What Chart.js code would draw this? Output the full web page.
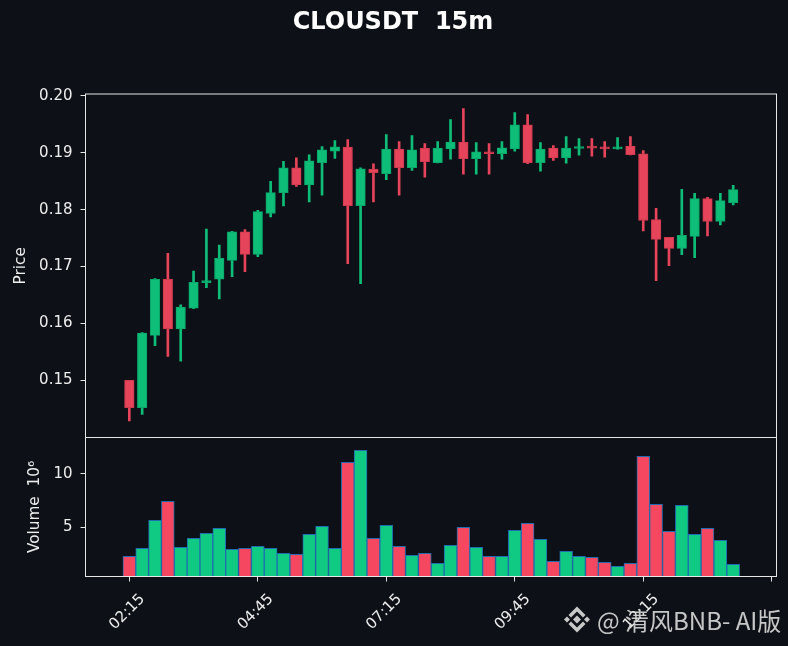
<!DOCTYPE html>
<html><head><meta charset="utf-8">
<script src="https://cdn.jsdelivr.net/npm/chart.js@4.4.1/dist/chart.umd.min.js"></script>
<style>html,body{margin:0;padding:0;background:#0d1017;}#wrap{width:788px;height:646px;position:relative;}canvas{display:block;}</style>
</head><body><div id="wrap"><canvas id="c" width="788" height="646"></canvas></div>
<script>
const titleText = 'CLOUSDT  15m';
const watermarkText = '@ 清风BNB- AI版';
const timeTicks = [0, 10, 20, 30, 40, 50];
const timeLabels = ['02:15', '04:45', '07:15', '09:45', '12:15', ''];
const opens  = [0.15005,0.14523,0.15792,0.16778,0.15904,0.16271,0.16719,0.16778,0.17110,0.17610,0.17215,0.17932,0.18299,0.18736,0.18432,0.18823,0.19027,0.19097,0.18071,0.18712,0.18631,0.19062,0.18736,0.19079,0.18823,0.19068,0.19184,0.18893,0.19016,0.18981,0.19068,0.19488,0.18823,0.19079,0.18910,0.19074,0.19103,0.19103,0.19068,0.19114,0.18981,0.17827,0.17512,0.17320,0.17530,0.18194,0.17792,0.18124];
const highs  = [0.15005,0.15840,0.16790,0.17232,0.16329,0.16923,0.17657,0.17378,0.17620,0.17652,0.17990,0.18497,0.18846,0.18910,0.18963,0.19108,0.19213,0.19231,0.18736,0.18806,0.19318,0.19196,0.19301,0.19161,0.19196,0.19580,0.19773,0.19178,0.19161,0.19196,0.19703,0.19668,0.19178,0.19126,0.19283,0.19248,0.19248,0.19196,0.19266,0.19283,0.19038,0.18024,0.17512,0.18357,0.18287,0.18217,0.18287,0.18427];
const lows   = [0.14289,0.14406,0.15612,0.15425,0.15338,0.16260,0.16632,0.16434,0.16824,0.16911,0.17173,0.17873,0.18065,0.18409,0.18135,0.18252,0.18899,0.17051,0.16701,0.18135,0.18526,0.18252,0.18689,0.18572,0.18820,0.18887,0.18624,0.18624,0.18624,0.18887,0.19027,0.18806,0.18677,0.18864,0.18817,0.18957,0.18939,0.18922,0.19060,0.18960,0.17628,0.16754,0.17016,0.17208,0.17156,0.17540,0.17733,0.18082];
const closes = [0.14523,0.15833,0.16778,0.15904,0.16288,0.16725,0.16737,0.17145,0.17610,0.17215,0.17966,0.18299,0.18736,0.18432,0.18858,0.19051,0.19103,0.18071,0.18718,0.18649,0.19062,0.18736,0.19051,0.18841,0.19079,0.19184,0.18893,0.19016,0.18981,0.19086,0.19488,0.18823,0.19062,0.18910,0.19079,0.19097,0.19079,0.19068,0.19097,0.18963,0.17809,0.17477,0.17320,0.17547,0.18194,0.17792,0.18159,0.18351];
const volumes = [2.28,3.03,5.65,7.43,3.12,3.96,4.43,4.90,2.93,3.03,3.21,3.03,2.56,2.46,4.34,5.09,3.03,11.09,12.21,3.96,5.18,3.21,2.37,2.56,1.62,3.31,5.00,3.12,2.28,2.28,4.71,5.37,3.87,1.81,2.75,2.28,2.18,1.72,1.34,1.62,11.65,7.15,4.62,7.06,4.34,4.90,3.78,1.53];
const priceTicks = [0.15, 0.16, 0.17, 0.18, 0.19, 0.20];
const volumeTicks = [5, 10];

const BG = '#0d1017';
const FG = '#eeeeee';
const up = closes.map((c, i) => c >= opens[i]);
const candleUp = '#0ebe78', candleDown = '#e5445a';
const volUp = '#10ca84', volDown = '#f5475f';

const idx = opens.map((_, i) => i);
const wickData = idx.map(i => ({x: i, y: [lows[i], highs[i]]}));
const bodyData = idx.map(i => ({x: i, y: [opens[i], closes[i]]}));
const volData = idx.map(i => ({x: i, y: volumes[i]}));

const deco = {
  id: 'deco',
  beforeDraw(chart) {
    const ctx = chart.ctx;
    ctx.save();
    ctx.fillStyle = BG;
    ctx.fillRect(0, 0, chart.width, chart.height);
    ctx.restore();
  },
  afterDraw(chart) {
    const {ctx, chartArea: ca, scales} = chart;
    ctx.save();
    ctx.strokeStyle = '#e6e6e6';
    ctx.lineWidth = 1;
    for (const id of ['yPrice', 'yVol']) {
      const s = scales[id];
      ctx.strokeRect(ca.left, s.top, ca.right - ca.left, s.bottom - s.top);
    }
    const xs = scales.x;
    ctx.fillStyle = FG;
    ctx.font = '15px "DejaVu Sans"';
    ctx.textAlign = 'center';
    ctx.textBaseline = 'middle';
    timeTicks.forEach((t, k) => {
      const lbl = timeLabels[k];
      if (!lbl) return;
      const px = xs.getPixelForValue(t);
      ctx.save();
      ctx.translate(px - 2, ca.bottom + 35.5);
      ctx.rotate(-Math.PI / 4);
      ctx.fillText(lbl, 0, 0);
      ctx.restore();
    });
    // title
    ctx.fillStyle = '#ffffff';
    ctx.font = 'bold 24px "DejaVu Sans"';
    ctx.textAlign = 'center';
    ctx.textBaseline = 'middle';
    ctx.fillText(titleText, 393, 23);
    // watermark logo
    const cx = 577, cy = 619.5;
    ctx.fillStyle = 'rgba(215,215,215,0.92)';
    const diamond = (x, y, r) => { ctx.beginPath(); ctx.moveTo(x, y - r); ctx.lineTo(x + r, y); ctx.lineTo(x, y + r); ctx.lineTo(x - r, y); ctx.closePath(); ctx.fill(); };
    diamond(cx, cy, 4);
    diamond(cx - 10, cy, 3);
    diamond(cx + 10, cy, 3);
    for (const sgn of [-1, 1]) {
      ctx.beginPath();
      ctx.moveTo(cx, cy + sgn * 13);
      ctx.lineTo(cx + 8.5, cy + sgn * 4.5);
      ctx.lineTo(cx + 6, cy + sgn * 2);
      ctx.lineTo(cx, cy + sgn * 8);
      ctx.lineTo(cx - 6, cy + sgn * 2);
      ctx.lineTo(cx - 8.5, cy + sgn * 4.5);
      ctx.closePath();
      ctx.fill();
    }
    ctx.font = '24px "Noto Sans CJK SC"';
    ctx.textAlign = 'left';
    ctx.textBaseline = 'alphabetic';
    ctx.fillText(watermarkText, 597, 629.5);
    ctx.restore();
  }
};

const tickFont = {family: 'DejaVu Sans', size: 15};
const titleFont = {family: 'DejaVu Sans', size: 15.3};

new Chart(document.getElementById('c'), {
  type: 'bar',
  data: {
    datasets: [
      {
        label: 'body', data: bodyData, yAxisID: 'yPrice', xAxisID: 'x', order: 0,
        backgroundColor: up.map(u => u ? candleUp : candleDown),
        borderColor: up.map(u => u ? '#0aa86a' : '#cf3a4f'),
        borderWidth: 1, borderSkipped: false, barThickness: 9.5, minBarLength: 2, grouped: false
      },
      {
        label: 'wick', data: wickData, yAxisID: 'yPrice', xAxisID: 'x', order: 1,
        backgroundColor: up.map(u => u ? candleUp : candleDown),
        borderWidth: 0, barThickness: 2, grouped: false
      },
      {
        label: 'volume', data: volData, yAxisID: 'yVol', xAxisID: 'x', order: 2,
        backgroundColor: up.map(u => u ? volUp : volDown),
        borderColor: '#1f6db0', borderWidth: 1, borderSkipped: false,
        barThickness: 12.85, grouped: false
      }
    ]
  },
  options: {
    responsive: false,
    animation: false,
    devicePixelRatio: 1,
    layout: {padding: {left: 0, right: 11.5, top: 94, bottom: 0}},
    plugins: {legend: {display: false}, tooltip: {enabled: false}, title: {display: false}},
    scales: {
      x: {
        type: 'linear', min: -3.41, max: 50.37, offset: false,
        grid: {display: true, offset: false, drawOnChartArea: false, drawTicks: true, tickLength: 5, tickColor: '#e6e6e6', tickWidth: 1},
        border: {display: false},
        ticks: {display: false},
        afterBuildTicks: s => { s.ticks = timeTicks.map(v => ({value: v})); },
        afterFit: s => { s.height = 69.5; }
      },
      yPrice: {
        type: 'linear', position: 'left', stack: 'panels', stackWeight: 343.5, weight: 1,
        min: 0.1400, max: 0.2003, beginAtZero: false,
        grid: {display: true, drawOnChartArea: false, drawTicks: true, tickLength: 5, tickColor: '#e6e6e6'},
        border: {display: false},
        ticks: {color: FG, font: tickFont, padding: 8, callback: v => v.toFixed(2)},
        afterBuildTicks: s => { s.ticks = priceTicks.map(v => ({value: v})); },
        title: {display: true, text: 'Price', color: FG, font: titleFont, padding: {top: 12, bottom: 0}},
        afterFit: s => { s.width = 85.5; }
      },
      yVol: {
        type: 'linear', position: 'left', stack: 'panels', stackWeight: 139, weight: 0,
        min: 0.38, max: 13.42, beginAtZero: false,
        grid: {display: true, drawOnChartArea: false, drawTicks: true, tickLength: 5, tickColor: '#e6e6e6'},
        border: {display: false},
        ticks: {color: FG, font: tickFont, padding: 8, callback: v => String(v)},
        afterBuildTicks: s => { s.ticks = volumeTicks.map(v => ({value: v})); },
        title: {display: true, text: 'Volume  10⁶', color: FG, font: titleFont, padding: {top: 26, bottom: 0}},
        afterFit: s => { s.width = 85.5; }
      }
    }
  },
  plugins: [deco]
});
</script>
</body></html>
